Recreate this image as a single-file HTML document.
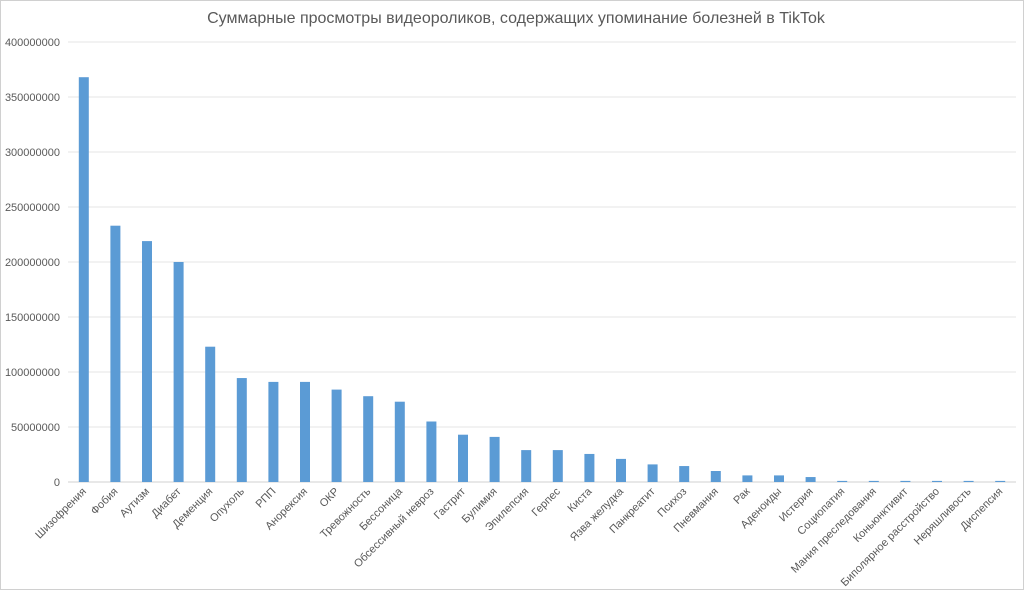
<!DOCTYPE html>
<html><head><meta charset="utf-8"><style>
html,body{margin:0;padding:0;background:#fff;width:1024px;height:591px;overflow:hidden}
svg{display:block;font-family:"Liberation Sans","DejaVu Sans",sans-serif}
</style></head><body>
<svg id="chart" width="1024" height="591">
<rect x="0.5" y="0.5" width="1023" height="589" fill="#fff" stroke="#d0d0d0"/>
<text x="516" y="23" text-anchor="middle" font-size="16" fill="#595959">Суммарные просмотры видеороликов, содержащих упоминание болезней в TikTok</text>
<g id="grid"></g><g id="bars"></g><g id="xlabels"></g><g id="ylabels"></g>
</svg>
<script>
const categories=["Шизофрения","Фобия","Аутизм","Диабет","Деменция","Опухоль","РПП","Анорексия","ОКР","Тревожность","Бессоница","Обсессивный невроз","Гастрит","Булимия","Эпилепсия","Герпес","Киста","Язва желудка","Панкреатит","Психоз","Пневмания","Рак","Аденоиды","Истерия","Социопатия","Мания преследования","Коньюнктивит","Биполярное расстройство","Неряшливость","Диспепсия"];
const values=[368000000,233000000,219000000,200000000,123000000,94500000,91000000,91000000,84000000,78000000,73000000,55000000,43000000,41000000,29000000,29000000,25500000,21000000,16000000,14500000,10000000,6000000,6000000,4500000,1000000,1000000,1000000,1000000,1000000,1000000];
const yTicks=[0,50000000,100000000,150000000,200000000,250000000,300000000,350000000,400000000];
</script>
<script>
// Fix: categories list had an extra entry? keep aligned to 29 bars
categories.splice(categories.indexOf("Неряшливость"),0); 
const NS="http://www.w3.org/2000/svg";
const x0=68,x1=1016,yBase=482,yTop=42,yMax=400000000;
const n=values.length;
const step=(x1-x0)/n;
function xc(i){return x0+step*(i+0.5);}
function ys(v){return yBase-(v/yMax)*(yBase-yTop);}
const grid=document.getElementById('grid'),bars=document.getElementById('bars'),xl=document.getElementById('xlabels'),yl=document.getElementById('ylabels');
yTicks.forEach(t=>{
 const l=document.createElementNS(NS,'line');
 l.setAttribute('x1',x0);l.setAttribute('x2',x1);l.setAttribute('y1',ys(t));l.setAttribute('y2',ys(t));
 l.setAttribute('stroke',t===0?'#d0d0d0':'#e6e6e6');l.setAttribute('stroke-width','1');
 
 
 grid.appendChild(l);
 const tx=document.createElementNS(NS,'text');
 tx.setAttribute('x',60);tx.setAttribute('y',ys(t)+4);tx.setAttribute('text-anchor','end');
 tx.setAttribute('font-size','11');tx.setAttribute('fill','#595959');tx.textContent=t;
 
 
 yl.appendChild(tx);
});
values.forEach((v,i)=>{
 const r=document.createElementNS(NS,'rect');
 r.setAttribute('x',xc(i)-5);r.setAttribute('width',10);
 r.setAttribute('y',ys(v));r.setAttribute('height',yBase-ys(v));r.setAttribute('fill','#5b9bd5');
 
 
 bars.appendChild(r);
 const tx=document.createElementNS(NS,'text');
 const cx=xc(i)+3,cy=492;
 tx.setAttribute('x',cx);tx.setAttribute('y',cy);tx.setAttribute('text-anchor','end');
 tx.setAttribute('transform','rotate(-45 '+cx+' '+cy+')');
 tx.setAttribute('font-size','11');tx.setAttribute('fill','#595959');tx.textContent=categories[i];
 
 
 xl.appendChild(tx);
});
</script>
</body></html>
